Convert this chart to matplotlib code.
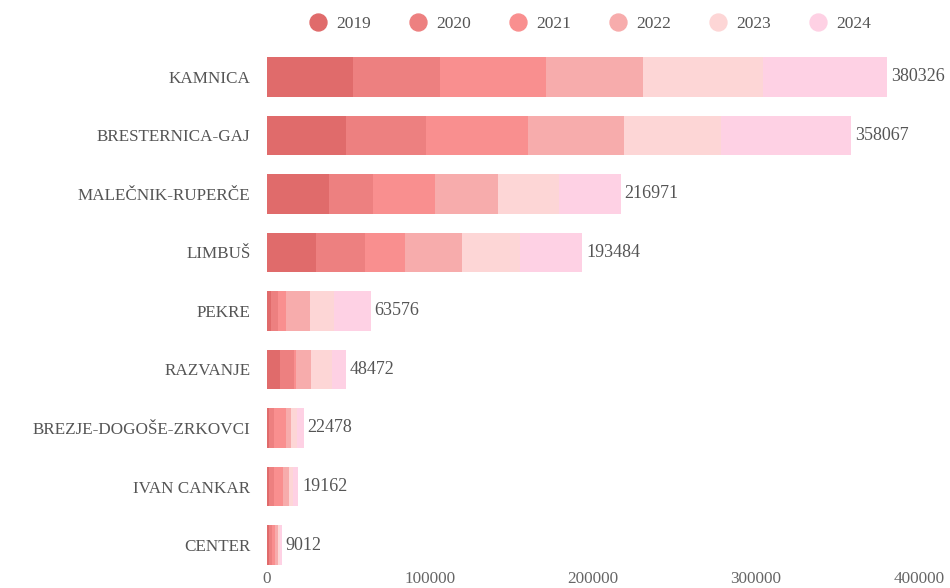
import numpy as np
import matplotlib
matplotlib.use("Agg")
import matplotlib.pyplot as plt
from matplotlib.lines import Line2D

plt.rcParams['font.family'] = ['Liberation Serif', 'DejaVu Serif']

areas = ["KAMNICA", "BRESTERNICA-GAJ", "MALEČNIK-RUPERČE", "LIMBUŠ", "PEKRE",
         "RAZVANJE", "BREZJE-DOGOŠE-ZRKOVCI", "IVAN CANKAR", "CENTER"]
years = ["2019", "2020", "2021", "2022", "2023", "2024"]

# values per year, same order as areas
v2019 = [52600, 48690, 38250, 30090, 2640, 8170, 1500, 1400, 1500]
v2020 = [53270, 48940, 26950, 29900, 4110, 8230, 2600, 2900, 1800]
v2021 = [65130, 62630, 38070, 24930, 5100, 1600, 7400, 5400, 1700]
v2022 = [59780, 58700, 38250, 34810, 14370, 9210, 3300, 3600, 1600]
v2023 = [73360, 59800, 37700, 35180, 14740, 12710, 3600, 2700, 1400]
v2024 = [76186, 79307, 37751, 38574, 22616, 8552, 4078, 3162, 1012]

colors = ["#e06b6b", "#ed8080", "#f98f8f", "#f7acac", "#fdd6d6", "#fed1e4"]
text_col = "#555555"

series = [v2019, v2020, v2021, v2022, v2023, v2024]
totals = np.sum(series, axis=0)

fig = plt.figure(figsize=(9.5, 5.88), dpi=100)
ax = fig.add_axes([267 / 950, 1 - 568 / 588, (919 - 267) / 950, (568 - 40) / 588])

y = np.arange(len(areas))
left = np.zeros(len(areas))
for vals, col, yr in zip(series, colors, years):
    ax.barh(y, vals, left=left, height=0.68, color=col, linewidth=0, label=yr)
    left += np.array(vals)

for yi, tot in zip(y, totals):
    ax.text(tot + 2500, yi, str(tot), va="center", ha="left",
            fontsize=13, color=text_col)

ax.set_xlim(0, 400000)
ax.set_ylim(8.393, -0.632)
ax.set_xticks([0, 100000, 200000, 300000, 400000])
ax.set_xticklabels(["0", "100000", "200000", "300000", "400000"])
ax.set_yticks(y)
ax.set_yticklabels(areas)
ax.tick_params(axis="y", length=0, pad=12, labelsize=12.3, labelcolor=text_col)
ax.tick_params(axis="x", length=0, pad=2, labelsize=12.3, labelcolor="#666666")
for s in ax.spines.values():
    s.set_visible(False)

handles = [Line2D([], [], marker="o", linestyle="none", markersize=12.2,
                  markerfacecolor=c, markeredgecolor=c) for c in colors]
fig.legend(handles, years, loc="center", bbox_to_anchor=(590 / 950, 1 - 24 / 588),
           ncol=6, frameon=False, fontsize=12.5, labelcolor=text_col,
           handlelength=1.0, handletextpad=0.55, columnspacing=2.2)

fig.savefig("out.png", dpi=100)
